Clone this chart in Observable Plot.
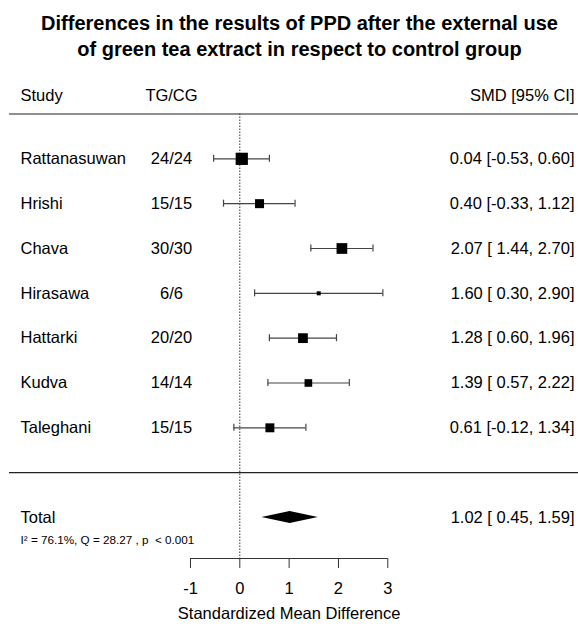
<!DOCTYPE html>
<html><head><meta charset="utf-8">
<script src="https://cdn.jsdelivr.net/npm/d3@7"></script>
<script src="https://cdn.jsdelivr.net/npm/@observablehq/plot@0.6"></script>
<style>
body{margin:0;background:#fff;}
#chart svg text{white-space:pre;}
</style></head><body><div id="chart"></div>
<script>
// ---- data ----
const studies = ["Rattanasuwan","Hrishi","Chava","Hirasawa","Hattarki","Kudva","Taleghani"];
const groups  = ["24/24","15/15","30/30","6/6","20/20","14/14","15/15"];
const smd     = [0.04, 0.40, 2.07, 1.60, 1.28, 1.39, 0.61];
const lower   = [-0.53,-0.33, 1.44, 0.30, 0.60, 0.57,-0.12];
const upper   = [0.60, 1.12, 2.70, 2.90, 1.96, 2.22, 1.34];
const totalLabel = "Total";
const totalSmd = 1.02, totalLower = 0.45, totalUpper = 1.59;
const heterogeneity = "I\u00B2 = 76.1%, Q = 28.27 , p  < 0.001";
const titleLines = ["Differences in the results of PPD after the external use","of green tea extract in respect to control group"];
const headerStudy = "Study", headerGroups = "TG/CG", headerEffect = "SMD [95% CI]";
const xTicks = [-1, 0, 1, 2, 3];
const xLabel = "Standardized Mean Difference";

// ---- layout ----
const W = 578, H = 628;
const pxPerUnit = 49.33, zeroPx = 239.3;
const px2x = p => (p - zeroPx) / pxPerUnit;
const rowPx = 44.83, row0Px = 113.5, mBottom = 70;
const yMin = (0 - row0Px) / rowPx, yMax = (H - mBottom - row0Px) / rowPx;
const colStudy = px2x(20), colGroups = px2x(171), colEffect = px2x(574);
const lineL = px2x(9), lineR = px2x(578);
const headerRow = -0.41, totalRow = 9, sepRow = 8, hetRow = 9.51;

const fmt = v => (v < 0 ? "" : " ") + v.toFixed(2);

const rows = studies.map((s, i) => ({
  study: s, group: groups[i], smd: smd[i], lower: lower[i], upper: upper[i], row: i + 1,
  prec: 3.92 / (upper[i] - lower[i]),
  label: `${smd[i].toFixed(2)} [${fmt(lower[i])}, ${upper[i].toFixed(2)}]`
}));
const precs = rows.map(d => d.prec);
const diamondH = 6 / rowPx;
const diamond = [
  {x: totalLower, y1: totalRow, y2: totalRow},
  {x: totalSmd, y1: totalRow - diamondH, y2: totalRow + diamondH},
  {x: totalUpper, y1: totalRow, y2: totalRow}
];
const totalText = `${totalSmd.toFixed(2)} [${fmt(totalLower)}, ${totalUpper.toFixed(2)}]`;
const barColor = "#444";
const fs = 16.5;

const chart = Plot.plot({
  width: W, height: H,
  marginLeft: 0, marginRight: 0, marginTop: 0, marginBottom: mBottom,
  style: {fontFamily: "'Liberation Sans', Arial, sans-serif", fontSize: fs + "px", color: "#000", background: "#fff"},
  x: {domain: [px2x(0), px2x(W)], axis: null},
  y: {domain: [yMin, yMax], reverse: true, axis: null},
  r: {type: "linear", domain: [d3.min(precs), d3.max(precs)], range: [2.26, 6.9]},
  marks: [
    // title
    Plot.text([titleLines.join("\n")], {frameAnchor: "top", dx: 10, dy: 34.5, lineAnchor: "middle", lineHeight: 1.26, fontSize: 20, fontWeight: "bold", fill: "#000"}),
    // headers
    Plot.text([headerStudy], {x: colStudy, y: headerRow, textAnchor: "start", fontSize: fs, fill: "#000"}),
    Plot.text([headerGroups], {x: colGroups, y: headerRow, textAnchor: "middle", fontSize: fs, fill: "#000"}),
    Plot.text([headerEffect], {x: colEffect, y: headerRow, textAnchor: "end", fontSize: fs, fill: "#000"}),
    // separators
    Plot.ruleY([0, sepRow], {x1: lineL, x2: lineR, stroke: "#222", strokeWidth: 1.2}),
    // zero line
    Plot.ruleX([0], {y1: 0, y2: yMax, stroke: "#333", strokeDasharray: "1.5,1.5"}),
    // CI bars
    Plot.ruleY(rows, {y: "row", x1: "lower", x2: "upper", stroke: barColor, strokeWidth: 1.2}),
    Plot.ruleX(rows, {x: "lower", y1: "row", y2: "row", insetTop: -3.5, insetBottom: -3.5, stroke: barColor, strokeWidth: 1.2}),
    Plot.ruleX(rows, {x: "upper", y1: "row", y2: "row", insetTop: -3.5, insetBottom: -3.5, stroke: barColor, strokeWidth: 1.2}),
    Plot.dot(rows, {x: "smd", y: "row", r: "prec", symbol: "square", fill: "#000", stroke: "none"}),
    // summary diamond
    Plot.areaY(diamond, {x: "x", y1: "y1", y2: "y2", fill: "#000"}),
    // row texts
    Plot.text(rows, {x: colStudy, y: "row", text: "study", textAnchor: "start", fontSize: fs, fill: "#000"}),
    Plot.text(rows, {x: colGroups, y: "row", text: "group", textAnchor: "middle", fontSize: fs, fill: "#000"}),
    Plot.text(rows, {x: colEffect, y: "row", text: "label", textAnchor: "end", fontSize: fs, fill: "#000"}),
    Plot.text([totalLabel], {x: colStudy, y: totalRow, textAnchor: "start", fontSize: fs, fill: "#000"}),
    Plot.text([totalText], {x: colEffect, y: totalRow, textAnchor: "end", fontSize: fs, fill: "#000"}),
    Plot.text([heterogeneity], {x: colStudy, y: hetRow, textAnchor: "start", fontSize: 11.7, fill: "#000"}),
    // axis
    Plot.ruleY([yMax], {x1: xTicks[0], x2: xTicks[xTicks.length - 1], stroke: "#333"}),
    Plot.axisX(xTicks, {anchor: "bottom", tickSize: 10, tickPadding: 14, tickFormat: d => String(d), label: null, stroke: "#333", fill: "#000", fontSize: fs}),
    Plot.text([xLabel], {x: (xTicks[0] + xTicks[xTicks.length - 1]) / 2, frameAnchor: "bottom", dy: 60, fontSize: fs, fill: "#000"})
  ]
});
document.getElementById("chart").appendChild(chart);
</script></body></html>
